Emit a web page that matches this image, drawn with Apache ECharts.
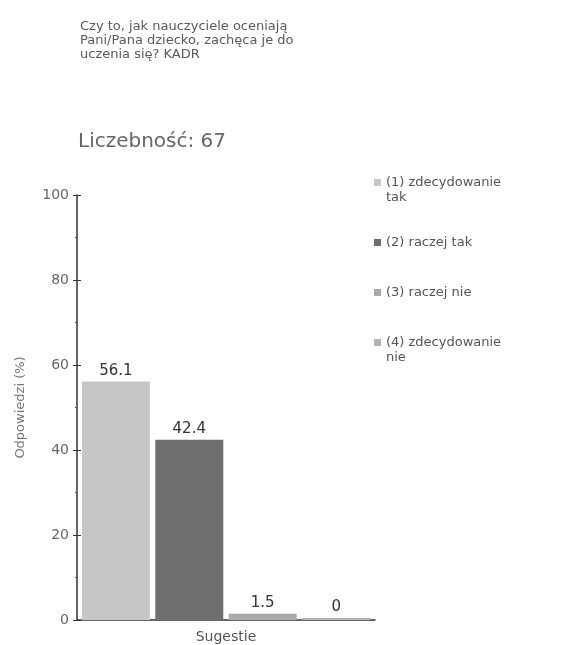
<!DOCTYPE html>
<html>
<head>
<meta charset="utf-8">
<script src="https://cdn.jsdelivr.net/npm/echarts@6/dist/echarts.min.js"></script>
<style>html,body{margin:0;padding:0;background:#fff}#c{width:564px;height:645px}</style>
</head>
<body>
<div id="c"></div>
<script>
const categories = ['Sugestie'];
const seriesNames = ['(1) zdecydowanie tak', '(2) raczej tak', '(3) raczej nie', '(4) zdecydowanie nie'];
const seriesValues = [56.1, 42.4, 1.5, 0];
const legendLabels = [' \n(1) zdecydowanie\ntak', '(2) raczej tak', '(3) raczej nie', ' \n(4) zdecydowanie\nnie'];
const colors = ['#c6c6c6', '#6f6f6f', '#a9a9a9', '#b3b3b3'];
const titleText = 'Czy to, jak nauczyciele oceniają\nPani/Pana dziecko, zachęca je do\nuczenia się? KADR';
const countText = 'Liczebność: 67';

const font = 'DejaVu Sans';
const chart = echarts.init(document.getElementById('c'));
const twoLine = [true, false, false, true];
const legendTops = [160, 235, 285, 320];
chart.setOption({
  animation: false,
  color: colors,
  textStyle: { fontFamily: font },
  title: [
    { text: titleText, left: 80, top: 20, padding: 0, textStyle: { fontSize: 13, fontWeight: 'normal', color: '#5a5a5a', lineHeight: 14, fontFamily: font } },
    { text: countText, left: 78, top: 132, padding: 0, textStyle: { fontSize: 20, fontWeight: 'normal', color: '#666', fontFamily: font } }
  ],
  legend: seriesNames.map((n, i) => ({
    data: [n],
    orient: 'vertical',
    left: 374,
    top: legendTops[i],
    padding: 0,
    itemWidth: 7,
    itemHeight: 7,
    itemGap: 0,
    icon: 'rect',
    formatter: () => legendLabels[i],
    textStyle: { fontSize: 13, color: '#555', lineHeight: 15, fontFamily: font }
  })),
  grid: { left: 77, right: 189, top: 195, bottom: 25 },
  xAxis: {
    type: 'category',
    data: categories,
    axisLine: { lineStyle: { color: '#333', width: 1.5 } },
    axisTick: { alignWithLabel: true, length: 5, lineStyle: { color: '#333' } },
    axisLabel: { color: '#555', fontSize: 14, margin: 10 }
  },
  yAxis: [{
    type: 'value',
    min: 0, max: 100, interval: 20,
    name: 'Odpowiedzi (%)',
    nameLocation: 'middle',
    nameGap: 50,
    nameTextStyle: { color: '#777', fontSize: 13 },
    axisLine: { show: true, lineStyle: { color: '#333', width: 1.5 } },
    axisTick: { show: true, length: 4, lineStyle: { color: '#333' } },
    minorTick: { show: true, splitNumber: 2, length: 2, lineStyle: { color: '#555' } },
    splitLine: { show: false },
    axisLabel: { color: '#666', fontSize: 14, margin: 8 }
  }, {
    type: 'value',
    position: 'left',
    min: 0, max: 100, interval: 20,
    axisLine: { show: false },
    axisTick: { show: true, inside: true, length: 4, lineStyle: { color: '#333' } },
    minorTick: { show: false },
    splitLine: { show: false },
    axisLabel: { show: false }
  }],
  series: seriesNames.map((n, i) => ({
    name: n,
    type: 'bar',
    yAxisIndex: 0,
    data: [seriesValues[i]],
    barWidth: 68,
    barGap: '8%',
    barMinHeight: 2,
    itemStyle: { color: colors[i] },
    label: { show: true, position: 'top', color: '#333', fontSize: 15, distance: 3, formatter: p => String(p.value) }
  }))
});
</script>
</body>
</html>
